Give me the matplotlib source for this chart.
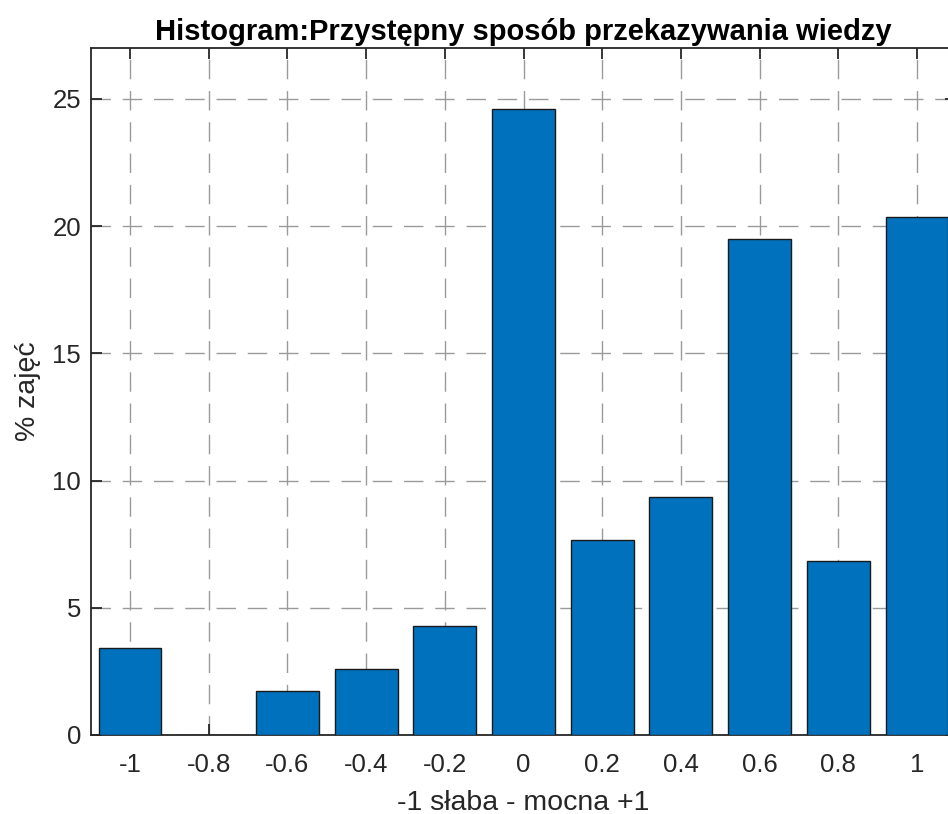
import matplotlib
matplotlib.use("Agg")
import matplotlib.pyplot as plt

categories = [-1, -0.8, -0.6, -0.4, -0.2, 0, 0.2, 0.4, 0.6, 0.8, 1]
tick_labels = ["-1", "-0.8", "-0.6", "-0.4", "-0.2", "0", "0.2", "0.4", "0.6", "0.8", "1"]
percent = [3.42, 0.0, 1.72, 2.6, 4.28, 24.6, 7.65, 9.35, 19.5, 6.82, 20.35]
yticks = [0, 5, 10, 15, 20, 25]

plt.rcParams['font.family'] = ['Liberation Sans', 'DejaVu Sans']

W, H = 948, 814
fig = plt.figure(figsize=(W / 100, H / 100), dpi=100)
# map x=-1 -> 130px, x=1 -> 917px ; xlim -1.1..1.1
ppu = (917 - 130) / 2.0
x0 = 130 - 0.1 * ppu
x1 = 917 + 0.1 * ppu
ytop, ybot = 48, 735
ax = fig.add_axes([x0 / W, (H - ybot) / H, (x1 - x0) / W, (ybot - ytop) / H])

ax.bar(categories, percent, width=0.16, color='#0072BD', edgecolor='#1a1a1a',
       linewidth=1.0, zorder=3)

ax.set_xlim(-1.1, 1.1)
ax.set_ylim(0, 27)
ax.set_xticks(categories)
ax.set_xticklabels(tick_labels)
ax.set_yticks(yticks)

ax.grid(True, color='#9a9a9a', linestyle=(0, (14, 8.5)), linewidth=1.0, zorder=0)
ax.set_axisbelow(True)

for s in ax.spines.values():
    s.set_color('#262626')
    s.set_linewidth(1.3)
ax.tick_params(axis='both', direction='in', length=8, width=1.3, colors='#262626',
               labelsize=18.5, top=True, right=True)
ax.tick_params(axis='x', pad=13)
ax.tick_params(axis='y', pad=7)
for lbl in ax.get_xticklabels() + ax.get_yticklabels():
    lbl.set_color('#262626')

ax.set_title('Histogram:Przystępny sposób przekazywania wiedzy', fontsize=21,
             fontweight='bold', color='black', pad=6)
ax.set_xlabel('-1 słaba - mocna +1', fontsize=20.5, color='#262626', labelpad=9)
ax.set_ylabel('% zajęć', fontsize=20.5, color='#262626', labelpad=8)

fig.savefig('out.png', dpi=100)
